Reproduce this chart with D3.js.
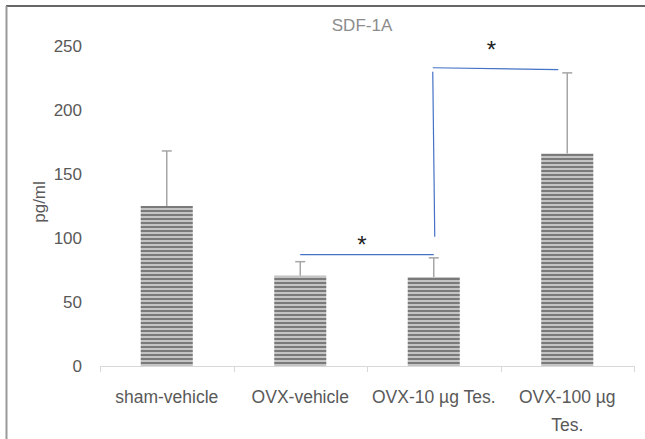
<!DOCTYPE html>
<html lang="en">
<head>
<meta charset="utf-8">
<script src="https://d3js.org/d3.v7.min.js"></script>
<style type="text/css">
body {
  margin: 0;
  font-family: "Liberation Sans", Arial, sans-serif;
  background: #fff;
}
.axis--y text {
  font-size: 17px;
  fill: #595959;
  font-family: "Liberation Sans", Arial, sans-serif;
}
</style>
<title>SDF-1A</title>
</head>
<body>
<script type="text/javascript">
var categories = ["sham-vehicle", "OVX-vehicle", "OVX-10 µg Tes.", "OVX-100 µg Tes."];
var values = [125, 70.5, 69.5, 166];
var errors = [43, 11, 15, 63];
var yTicks = [0, 50, 100, 150, 200, 250];
// significance brackets: [from category, to category, value level]
var sigLow = {from: 1, to: 2, level: 87};
var sigHigh = {from: 2, to: 3, level: 233};

var W = 645, H = 439;
var margin = {top: 46, right: 11, bottom: 73, left: 100},
    width = W - margin.left - margin.right,
    height = H - margin.top - margin.bottom;

var svg = d3.select("body").append("svg")
    .attr("width", W)
    .attr("height", H);

var defs = svg.append("defs");
var pat = defs.append("pattern")
    .attr("id", "stripes")
    .attr("patternUnits", "userSpaceOnUse")
    .attr("width", 8)
    .attr("height", 4);
pat.append("rect").attr("width", 8).attr("height", 2).attr("fill", "#7a7a7a");
pat.append("rect").attr("y", 2).attr("width", 8).attr("height", 2).attr("fill", "#c4c4c4");

// outer frame
svg.append("line").attr("x1", 6).attr("x2", W).attr("y1", 6).attr("y2", 6)
    .attr("stroke", "#333").attr("stroke-width", 1.5);
svg.append("line").attr("x1", 6.5).attr("x2", 6.5).attr("y1", 6).attr("y2", H)
    .attr("stroke", "#999").attr("stroke-width", 2);

var x = d3.scaleBand().domain(categories).range([0, width]).paddingInner(0.61).paddingOuter(0.305);
var y = d3.scaleLinear().domain([0, 250]).range([height, 0]);
var band = d3.scaleBand().domain(categories).range([0, width]);

var g = svg.append("g")
    .attr("transform", "translate(" + margin.left + "," + margin.top + ")");

// y axis labels only
var yAxis = g.append("g")
    .attr("class", "axis axis--y")
    .call(d3.axisLeft(y).tickValues(yTicks).tickSize(0).tickPadding(18));
yAxis.select(".domain").remove();

// x axis
g.append("line")
    .attr("x1", 0).attr("x2", width)
    .attr("y1", height + 0.5).attr("y2", height + 0.5)
    .attr("stroke", "#d9d9d9");
var edges = categories.map(function(c) { return band(c); }).concat([width]);
g.selectAll(".xtick").data(edges).enter().append("line")
    .attr("x1", function(d) { return Math.round(d) + 0.5; })
    .attr("x2", function(d) { return Math.round(d) + 0.5; })
    .attr("y1", height).attr("y2", height + 6)
    .attr("stroke", "#d9d9d9");

g.selectAll(".xlabel").data(categories).enter().append("text")
    .attr("class", "xlabel")
    .attr("text-anchor", "middle")
    .attr("font-size", 17.5)
    .attr("fill", "#595959")
    .attr("x", function(d) { return band(d) + band.bandwidth() / 2; })
    .attr("y", height + 37)
    .each(function(d) {
      var t = d3.select(this);
      if (d === "OVX-100 µg Tes.") {
        t.append("tspan").attr("x", band(d) + band.bandwidth() / 2).text("OVX-100 µg");
        t.append("tspan").attr("x", band(d) + band.bandwidth() / 2).attr("dy", 28).text("Tes.");
      } else {
        t.text(d);
      }
    });

// bars
g.selectAll(".bar").data(values).enter().append("rect")
    .attr("class", "bar")
    .attr("x", function(d, i) { return x(categories[i]); })
    .attr("width", x.bandwidth())
    .attr("y", function(d) { return y(d); })
    .attr("height", function(d) { return height - y(d); })
    .attr("fill", "url(#stripes)");

// error bars (upper only)
values.forEach(function(v, i) {
  var cx = x(categories[i]) + x.bandwidth() / 2;
  g.append("line")
    .attr("x1", cx).attr("x2", cx)
    .attr("y1", y(v)).attr("y2", y(v + errors[i]))
    .attr("stroke", "#a6a6a6").attr("stroke-width", 1.5);
  g.append("line")
    .attr("x1", cx - 5).attr("x2", cx + 5)
    .attr("y1", y(v + errors[i])).attr("y2", y(v + errors[i]))
    .attr("stroke", "#a6a6a6").attr("stroke-width", 1.5);
});

// significance marks
var c = function(i) { return x(categories[i]) + x.bandwidth() / 2; };
var blue = "#4472c4";
g.append("line")
    .attr("x1", c(sigLow.from)).attr("x2", c(sigLow.to))
    .attr("y1", y(sigLow.level)).attr("y2", y(sigLow.level))
    .attr("stroke", blue).attr("stroke-width", 1.2);
g.append("text")
    .attr("x", (c(sigLow.from) + c(sigLow.to)) / 2 - 5)
    .attr("y", y(sigLow.level) - 2)
    .attr("text-anchor", "middle")
    .attr("font-size", 24).attr("fill", "#222")
    .text("*");

g.append("line")
    .attr("x1", c(sigHigh.from) - 1).attr("x2", c(sigHigh.from) + 1)
    .attr("y1", y(sigHigh.level) + 4).attr("y2", y(sigLow.level + 14))
    .attr("stroke", blue).attr("stroke-width", 1.2);
g.append("line")
    .attr("x1", c(sigHigh.from) - 1).attr("x2", c(sigHigh.to) - 9)
    .attr("y1", y(sigHigh.level)).attr("y2", y(sigHigh.level - 1.5))
    .attr("stroke", blue).attr("stroke-width", 1.2);
g.append("text")
    .attr("x", (c(sigHigh.from) + c(sigHigh.to)) / 2 - 9)
    .attr("y", y(sigHigh.level) - 10)
    .attr("text-anchor", "middle")
    .attr("font-size", 24).attr("fill", "#222")
    .text("*");

// title
svg.append("text")
    .attr("x", 362)
    .attr("y", 31)
    .attr("text-anchor", "middle")
    .attr("font-size", 17)
    .attr("fill", "#8c8c8c")
    .text("SDF-1A");

// y axis title
svg.append("text")
    .attr("transform", "translate(45," + (margin.top + height / 2 - 4) + ") rotate(-90)")
    .attr("text-anchor", "middle")
    .attr("font-size", 17)
    .attr("fill", "#595959")
    .text("pg/ml");
</script>
</body>
</html>
